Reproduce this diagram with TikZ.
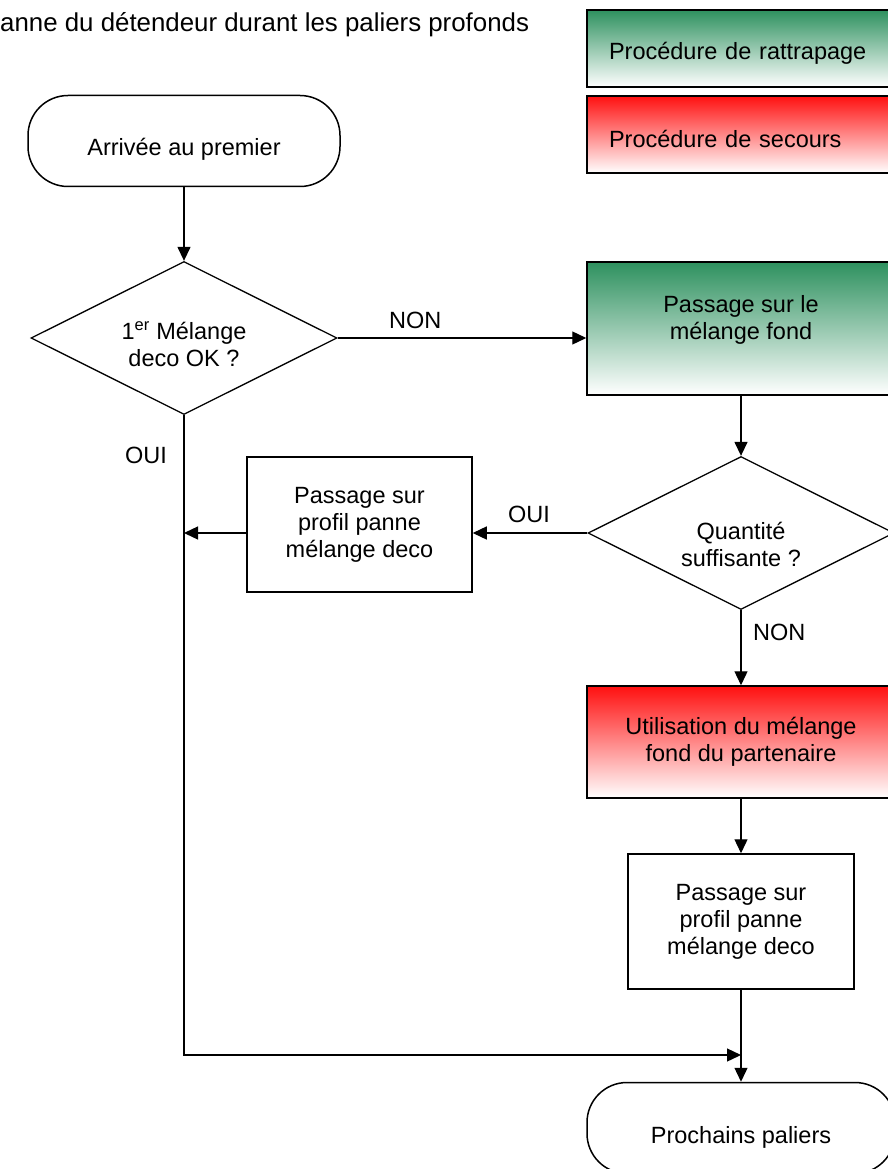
\documentclass[tikz,border=0pt]{standalone}
\usepackage{fontspec}
\setmainfont{Liberation Sans}
\usetikzlibrary{arrows.meta,shapes.geometric}
\definecolor{dvgreen}{RGB}{46,145,95}
\definecolor{dvred}{RGB}{255,16,16}
% struts to move a text block up or down inside its shape
\newcommand{\dropby}[1]{\rule{0pt}{#1}}
\newcommand{\liftby}[1]{\rule[-#1]{0pt}{0pt}}

\begin{document}
\begin{tikzpicture}[x=1pt,y=-1pt,
  every node/.style={font=\fontsize{23.5}{27}\selectfont, align=center},
  box/.style={draw, line width=1.5pt, rectangle, inner sep=0pt},
  term/.style={box, rounded corners=40pt, minimum width=312pt, minimum height=91pt},
  choice/.style={draw, line width=1.3pt, diamond, aspect=2, inner sep=0pt,
    minimum width=306pt, minimum height=153pt},
  flow/.style={line width=1.3pt, -{Triangle[length=14pt,width=13pt]}},
  tag/.style={anchor=base west, inner sep=0pt},
  catchup/.style={top color=dvgreen, bottom color=white},
  rescue/.style={top color=dvred, bottom color=white}]
  \useasboundingbox (0,0) rectangle (888,1169);
  \fill[white] (0,0) rectangle (888,1169);
  \clip (0,0) rectangle (888,1169);
  % Title
  \node[tag, font=\fontsize{25.85}{30}\selectfont] (title) at (0,32)
    {anne du détendeur durant les paliers profonds};
  % Legend
  \node[box, catchup, minimum width=308pt, minimum height=77pt, text width=264pt,
    align=left, inner xsep=22pt] (legA) at (741,48.5) {\dropby{26pt}Procédure de rattrapage};
  \node[box, rescue, minimum width=308pt, minimum height=77pt, text width=264pt,
    align=left, inner xsep=22pt] (legB) at (741,134.5) {\dropby{26pt}Procédure de secours};
  % Flow
  \node[term] (start) at (184,141) {\dropby{33pt}Arrivée au premier};
  \node[choice] (deco) at (184,338) {\dropby{31pt}1\textsuperscript{er} Mélange\\deco OK ?};
  \node[box, catchup, minimum width=308pt, minimum height=133pt] (fond) at (741,328.5)
    {Passage sur le\\mélange fond\liftby{23pt}};
  \node[choice] (qty) at (741,533) {\dropby{40pt}Quantité\\suffisante ?};
  \node[box, minimum width=225pt, minimum height=135pt] (profA) at (359.5,524.5)
    {Passage sur\\profil panne\\mélange deco};
  \node[box, rescue, minimum width=308pt, minimum height=112pt] (buddy) at (741,742)
    {Utilisation du mélange\\fond du partenaire};
  \node[box, minimum width=226pt, minimum height=135pt] (profB) at (741,921.5)
    {Passage sur\\profil panne\\mélange deco};
  \node[term, minimum width=308pt] (next) at (741,1128) {\dropby{35pt}Prochains paliers};
  \coordinate (join) at (184,1055);
  \coordinate (merge) at (741,1055);
  % Connectors
  \draw[flow] (start) -- (deco);
  \draw[flow] (deco.east) -- (fond.west |- deco.east);
  \draw[flow] (fond) -- (qty);
  \draw[flow] (qty.west) -- (qty.west -| profA.east);
  \draw[flow] (profA.west |- qty.west) -- (qty.west -| join);
  \draw[flow] (qty) -- (buddy);
  \draw[flow] (buddy) -- (profB);
  \draw[flow] (profB) -- (next);
  \draw[flow] (deco.south) -- (join) -- (merge);
  % Labels
  \node[tag] (non1) at (389,328) {NON};
  \node[tag] (oui1) at (125,463) {OUI};
  \node[tag] (oui2) at (508,522) {OUI};
  \node[tag] (non2) at (753,640) {NON};
\end{tikzpicture}
\end{document}
